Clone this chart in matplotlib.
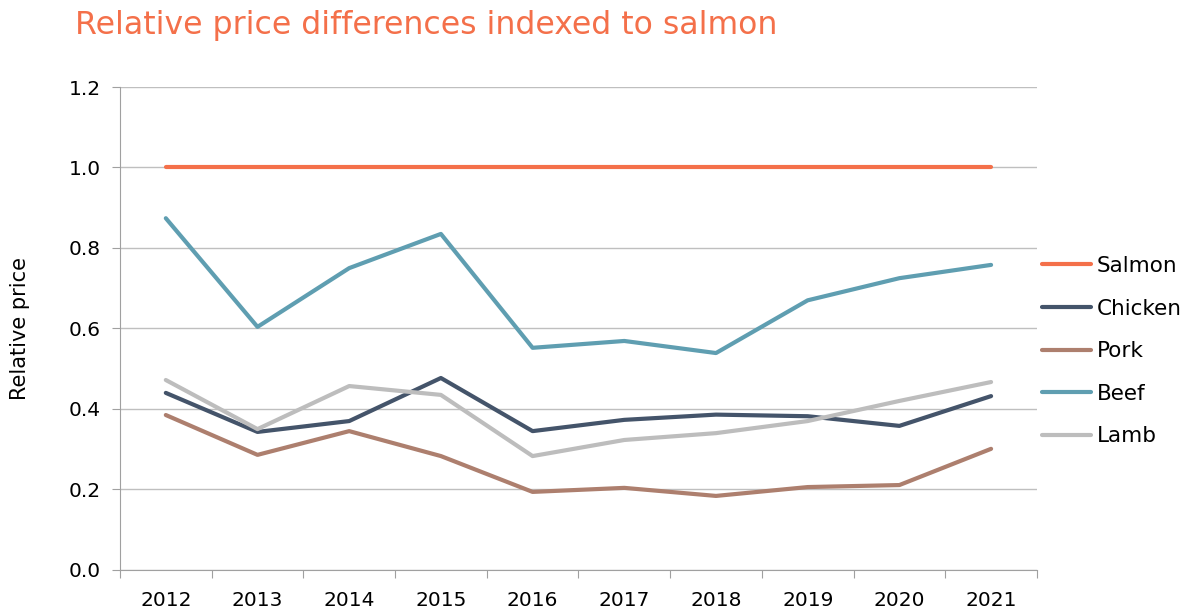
import matplotlib
matplotlib.use("Agg")
from matplotlib import pyplot as plt
import numpy as np

years = ["2012", "2013", "2014", "2015", "2016", "2017", "2018", "2019", "2020", "2021"]
salmon = [1.0, 1.0, 1.0, 1.0, 1.0, 1.0, 1.0, 1.0, 1.0, 1.0]
chicken = [0.440, 0.343, 0.370, 0.477, 0.345, 0.373, 0.386, 0.382, 0.358, 0.432]
pork = [0.385, 0.286, 0.345, 0.283, 0.194, 0.204, 0.184, 0.206, 0.211, 0.301]
beef = [0.874, 0.604, 0.750, 0.835, 0.552, 0.569, 0.539, 0.670, 0.725, 0.758]
lamb = [0.472, 0.350, 0.457, 0.435, 0.283, 0.323, 0.340, 0.370, 0.420, 0.467]

series = [("Salmon", salmon, "#F4704A"),
          ("Chicken", chicken, "#44546A"),
          ("Pork", pork, "#AD7F6E"),
          ("Beef", beef, "#5F9EB1"),
          ("Lamb", lamb, "#BDBDBD")]

plt.rcParams['font.family'] = ['DejaVu Sans']

fig = plt.figure(figsize=(11.96, 6.14), dpi=100)
ax = fig.add_axes([0.1003, 0.0717, 0.7667, 0.7866])

x = np.arange(len(years))
for name, vals, col in series:
    ax.plot(x, vals, color=col, linewidth=3, label=name, solid_capstyle='round')

ax.set_xlim(-0.5, len(years) - 0.5)
ax.set_ylim(0, 1.2)
ax.set_yticks(np.arange(0, 1.21, 0.2))
ax.set_yticklabels([f"{v:.1f}" for v in np.arange(0, 1.21, 0.2)])
ax.yaxis.grid(True, color="#BFBFBF", linewidth=1)
ax.set_axisbelow(True)

# category ticks between years, labels centred
ax.set_xticks(np.arange(-0.5, len(years), 1.0))
ax.set_xticklabels([])
ax.set_xticks(x, minor=True)
ax.set_xticklabels(years, minor=True)
ax.tick_params(axis='x', which='minor', length=0, pad=15, labelsize=14.5)
ax.tick_params(axis='x', which='major', length=6, color="#A0A0A0", direction='out')
ax.tick_params(axis='y', length=6, color="#A0A0A0", labelsize=14.5, pad=8)

for s in ["top", "right"]:
    ax.spines[s].set_visible(False)
for s in ["left", "bottom"]:
    ax.spines[s].set_color("#A0A0A0")

ax.set_ylabel("Relative price", fontsize=15, labelpad=28)

fig.text(0.063, 0.958, "Relative price differences indexed to salmon",
         fontsize=22.7, color="#F4704A", va="center", ha="left")

fig.legend(loc="center left", bbox_to_anchor=(0.855, 0.428), frameon=False,
           fontsize=15.5, handlelength=2.3, handletextpad=0.25, labelspacing=1.05)

fig.savefig("out.png", dpi=100)
